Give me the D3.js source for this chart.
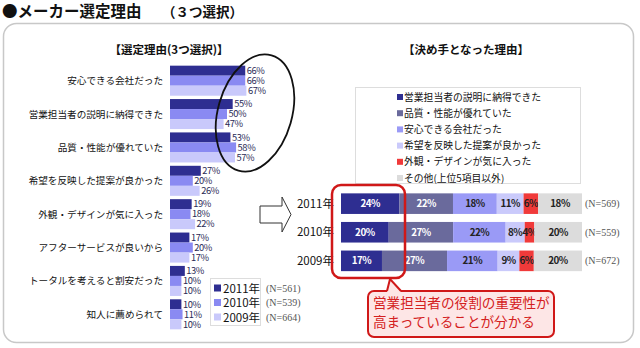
<!DOCTYPE html>
<html lang="ja">
<head>
<meta charset="utf-8">
<title>メーカー選定理由</title>
<script src="https://d3js.org/d3.v7.min.js"></script>
<style>
  body { margin: 0; background: #fff; }
  text { font-family: "Noto Sans CJK JP", "Noto Sans", sans-serif; }
  text.serif { font-family: "Liberation Serif", "DejaVu Serif", serif; }
</style>
</head>
<body>
<script>

// left chart: reasons for choice (3 picks)
var reasons = ["安心できる会社だった", "営業担当者の説明に納得できた", "品質・性能が優れていた",
               "希望を反映した提案が良かった", "外観・デザインが気に入った", "アフターサービスが良いから",
               "トータルを考えると割安だった", "知人に薦められて"];
var years = ["2011年", "2010年", "2009年"];
var yearN = ["(N=561)", "(N=539)", "(N=664)"];
var v2011 = [66, 55, 53, 27, 19, 17, 13, 10];
var v2010 = [66, 50, 58, 20, 18, 20, 10, 11];
var v2009 = [67, 47, 57, 26, 22, 17, 10, 10];

// right chart: decisive reason
var deciders = ["営業担当者の説明に納得できた", "品質・性能が優れていた", "安心できる会社だった",
                "希望を反映した提案が良かった", "外観・デザインが気に入った", "その他(上位5項目以外)"];
var decYears = ["2011年", "2010年", "2009年"];
var decN = ["(N=569)", "(N=559)", "(N=672)"];
var d2011 = [24, 22, 18, 11, 6, 18];
var d2010 = [20, 27, 22, 8, 4, 20];
var d2009 = [17, 27, 21, 9, 6, 20];

var w = 640, h = 348;
var svg = d3.select("body").append("svg").attr("width", w).attr("height", h);

// frame
svg.append("rect").attr("x", 3.5).attr("y", 23.5).attr("width", 630).attr("height", 319)
    .attr("rx", 13).attr("fill", "#fff").attr("stroke", "#c8c8c8").attr("stroke-width", 1.5);

svg.append("text").attr("x", 2).attr("y", 17).attr("font-size", 15.5).attr("font-weight", "bold")
    .attr("fill", "#111").text("●メーカー選定理由");
svg.append("text").attr("x", 162).attr("y", 17).attr("font-size", 13.5).attr("font-weight", "bold")
    .attr("fill", "#111").text("（３つ選択）");

svg.append("text").attr("x", 169).attr("y", 54).attr("text-anchor", "middle").attr("font-size", 11.5)
    .attr("font-weight", "bold").attr("fill", "#111").text("【選定理由(3つ選択)】");
svg.append("text").attr("x", 466).attr("y", 54).attr("text-anchor", "middle").attr("font-size", 11.5)
    .attr("font-weight", "bold").attr("fill", "#111").text("【決め手となった理由】");

// ---- left grouped bars ----
var leftColors = d3.scaleOrdinal().domain(years).range(["#2e2e91", "#8a8af2", "#c9c9fb"]);
var y0 = d3.scaleBand().domain(reasons).range([64, 331]).paddingInner(0.1).paddingOuter(0.05);
var y1 = d3.scaleBand().domain(years).range([0, y0.bandwidth()]);
var xL = d3.scaleLinear().domain([0, 100]).range([170, 284]);

var rows = reasons.map(function (r, i) {
    return { reason: r, vals: [v2011[i], v2010[i], v2009[i]] };
});

var grp = svg.selectAll("g.grp").data(rows).enter().append("g")
    .attr("class", "grp")
    .attr("transform", function (d) { return "translate(0," + y0(d.reason) + ")"; });

grp.append("text")
    .attr("x", 163).attr("y", y0.bandwidth() / 2 + 3.5)
    .attr("text-anchor", "end").attr("font-size", 9.6).attr("fill", "#111")
    .text(function (d) { return d.reason; });

var bar = grp.selectAll("g.b").data(function (d) {
    return d.vals.map(function (v, j) { return { year: years[j], v: v }; });
}).enter().append("g").attr("class", "b");

bar.append("rect")
    .attr("x", xL(0))
    .attr("y", function (d) { return y1(d.year); })
    .attr("width", function (d) { return xL(d.v) - xL(0); })
    .attr("height", y1.bandwidth())
    .attr("fill", function (d) { return leftColors(d.year); });

bar.append("text")
    .attr("x", function (d) { return xL(d.v) + 1.5; })
    .attr("y", function (d) { return y1(d.year) + y1.bandwidth() / 2 + 3.3; })
    .attr("font-size", 9.3).attr("fill", "#2a2a55").attr("letter-spacing", -0.4)
    .text(function (d) { return d.v + "%"; });

// left legend
var lg = svg.append("g");
lg.append("rect").attr("x", 210.5).attr("y", 278.5).attr("width", 50).attr("height", 47)
    .attr("fill", "#fff").attr("stroke", "#ddd");
years.forEach(function (yr, i) {
    var yy = 288 + i * 14.5;
    lg.append("rect").attr("x", 214).attr("y", yy - 3.5).attr("width", 7).attr("height", 7)
        .attr("fill", leftColors(yr));
    lg.append("text").attr("x", 223).attr("y", yy + 4.5).attr("font-size", 11.5)
        .attr("fill", "#111").text(yr);
    lg.append("text").attr("class", "serif").attr("x", 266).attr("y", yy + 3.5)
        .attr("font-size", 10).attr("fill", "#555").text(yearN[i]);
});

// ellipse highlight
svg.append("ellipse").attr("cx", 255).attr("cy", 113).attr("rx", 37).attr("ry", 60)
    .attr("transform", "rotate(16,255,113)")
    .attr("fill", "none").attr("stroke", "#111").attr("stroke-width", 1.8);

// arrow
svg.append("polygon")
    .attr("points", "260,206 282,206 282,197 291,214.5 282,232 282,223 260,223")
    .attr("fill", "#fff").attr("stroke", "#333").attr("stroke-width", 1);

// ---- right stacked bars ----
var rightColors = d3.scaleOrdinal().domain(deciders)
    .range(["#2e2e91", "#6a6a9c", "#9a9af6", "#cacafb", "#f03a3a", "#dcdcdc"]);
var decRows = [d2011, d2010, d2009].map(function (arr, i) {
    var o = { year: decYears[i] };
    deciders.forEach(function (k, j) { o[k] = arr[j]; });
    return o;
});
var stack = d3.stack().keys(deciders).offset(d3.stackOffsetExpand);
var series = stack(decRows);

var xR = d3.scaleLinear().domain([0, 1]).range([341, 582]);
var yR = d3.scaleBand().domain(decYears).range([190.5, 274]).paddingInner(0.28).paddingOuter(0.1);

// right legend
var rg = svg.append("g");
rg.append("rect").attr("x", 355.5).attr("y", 87.5).attr("width", 225).attr("height", 96)
    .attr("fill", "#fff").attr("stroke", "#ddd");
deciders.forEach(function (k, i) {
    var yy = 97 + i * 16.2;
    rg.append("rect").attr("x", 397).attr("y", yy - 3).attr("width", 6).attr("height", 6)
        .attr("fill", rightColors(k));
    rg.append("text").attr("x", 404).attr("y", yy + 3.5).attr("font-size", 9.8)
        .attr("fill", "#111").text(k);
});

var layer = svg.selectAll("g.layer").data(series).enter().append("g").attr("class", "layer");
layer.selectAll("rect").data(function (s) {
    return s.map(function (d) { return { key: s.key, d: d }; });
}).enter().append("rect")
    .attr("x", function (p) { return xR(p.d[0]); })
    .attr("y", function (p) { return yR(p.d.data.year); })
    .attr("width", function (p) { return xR(p.d[1]) - xR(p.d[0]); })
    .attr("height", yR.bandwidth())
    .attr("fill", function (p) { return rightColors(p.key); });

layer.selectAll("text").data(function (s) {
    return s.map(function (d) { return { key: s.key, d: d }; });
}).enter().append("text")
    .attr("x", function (p) { return (xR(p.d[0]) + xR(p.d[1])) / 2; })
    .attr("y", function (p) { return yR(p.d.data.year) + yR.bandwidth() / 2 + 3.5; })
    .attr("text-anchor", "middle").attr("font-size", 9.8).attr("font-weight", "bold")
    .attr("letter-spacing", -0.5)
    .attr("fill", function (p) {
        var j = deciders.indexOf(p.key);
        return j < 2 ? "#fff" : "#222";
    })
    .text(function (p) { return p.d.data[p.key] + "%"; });

decYears.forEach(function (yr, i) {
    var cy = yR(yr) + yR.bandwidth() / 2;
    svg.append("text").attr("x", 334).attr("y", cy + 4).attr("text-anchor", "end")
        .attr("font-size", 11.5).attr("fill", "#111").text(yr);
    svg.append("text").attr("class", "serif").attr("x", 585).attr("y", cy + 3.5)
        .attr("font-size", 10).attr("fill", "#555").text(decN[i]);
});

// red highlight box + callout
svg.append("rect").attr("x", 332).attr("y", 185).attr("width", 73).attr("height", 93)
    .attr("rx", 9).attr("fill", "none").attr("stroke", "#d01818").attr("stroke-width", 2.5);

svg.append("rect").attr("x", 368).attr("y", 291).attr("width", 186).attr("height", 46)
    .attr("rx", 6).attr("fill", "#fde6e6").attr("stroke", "#d01818").attr("stroke-width", 2);
svg.append("path").attr("d", "M387,292 L390,279 L401,292 Z")
    .attr("fill", "#fde6e6").attr("stroke", "none");
svg.append("path").attr("d", "M387,291 L390,279 L401,291")
    .attr("fill", "none").attr("stroke", "#d01818").attr("stroke-width", 2);
svg.append("text").attr("x", 373).attr("y", 308).attr("font-size", 13.6).attr("fill", "#d42020")
    .text("営業担当者の役割の重要性が");
svg.append("text").attr("x", 373).attr("y", 327).attr("font-size", 13.6).attr("fill", "#d42020")
    .text("高まっていることが分かる");

</script>
</body>
</html>
